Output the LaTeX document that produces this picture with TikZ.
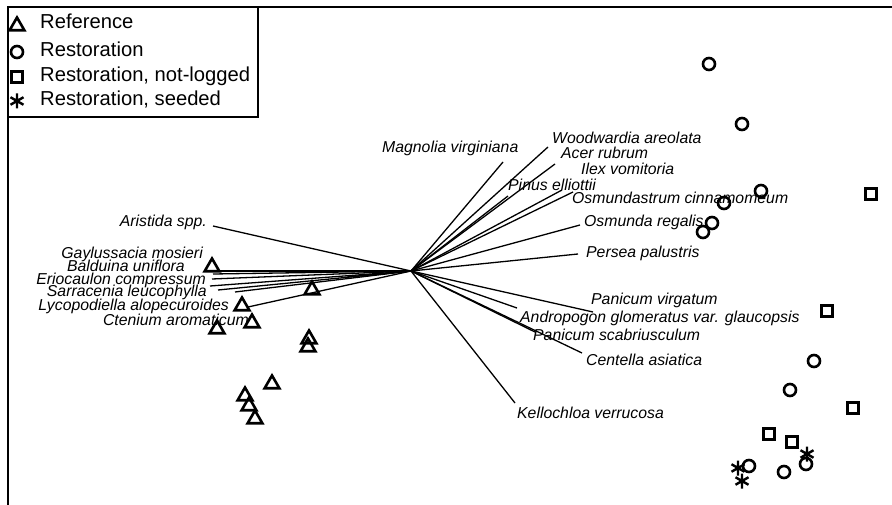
\documentclass[tikz,border=0pt]{standalone}
\usepackage{fontspec}
\setmainfont{Liberation Sans}
\usetikzlibrary{shapes.geometric}
\begin{document}
\begin{tikzpicture}[x=1pt,y=-1pt,
    lbl/.style={font=\fontsize{15.8}{18}\selectfont\itshape, inner sep=0pt, text height=11pt, text depth=3pt},
    leg/.style={font=\fontsize{20.2}{22}\selectfont, anchor=west, inner sep=0pt, text height=14pt, text depth=4pt},
    refpt/.style={draw, line width=2.6pt, regular polygon, regular polygon sides=3, minimum size=17pt, inner sep=0pt},
    restpt/.style={draw, line width=2.6pt, circle, minimum size=12pt, inner sep=0pt},
    nlpt/.style={draw, line width=2.6pt, rectangle, minimum size=11pt, inner sep=0pt},
    seeded/.pic={\draw[line width=2.4pt] (0,-7.5) -- (0,7.5) (-6.5,-3.75) -- (6.5,3.75) (-6.5,3.75) -- (6.5,-3.75);},
    vec/.style={line width=1.3pt}]
  \useasboundingbox (0,0) rectangle (892,505);
  \draw[line width=2pt] (8,505) -- (8,7) -- (892,7);
  \draw[line width=1.3pt] (8,117) -- (258,117) -- (258,7);

  \node[refpt] (kref) at (17,26) {};
  \node[restpt] (krest) at (17,52) {};
  \node[nlpt] (knl) at (17,77) {};
  \pic at (17,101) {seeded};
  \node[leg] (lref) at (40,24) {Reference};
  \node[leg] (lrest) at (40,52) {Restoration};
  \node[leg] (lnl) at (40,77) {Restoration, not-logged};
  \node[leg] (lseed) at (40,101) {Restoration, seeded};

  \coordinate (o) at (411,271);
  \coordinate (aristida) at (213,226);
  \coordinate (gaylussacia) at (213,271);
  \coordinate (balduina) at (213,274);
  \coordinate (eriocaulon) at (212,279);
  \coordinate (sarracenia) at (210,286);
  \coordinate (x1) at (218,290);
  \coordinate (ctenium) at (235,292);
  \coordinate (lycopodiella) at (248,307);
  \coordinate (x2) at (347,277);
  \coordinate (magnolia) at (503,162);
  \coordinate (woodwardia) at (548,147);
  \coordinate (acer) at (555,164);
  \coordinate (pinus) at (508,196);
  \coordinate (ilex) at (562,190);
  \coordinate (osmundastrum) at (573,192);
  \coordinate (osmunda) at (580,225);
  \coordinate (persea) at (578,254);
  \coordinate (virgatum) at (593,312);
  \coordinate (andropogon) at (517,308);
  \coordinate (scabriusculum) at (535,332);
  \coordinate (centella) at (582,353);
  \coordinate (kellochloa) at (515,403);
  \foreach \v in {aristida,gaylussacia,balduina,eriocaulon,sarracenia,x1,ctenium,lycopodiella,x2,
      magnolia,woodwardia,acer,pinus,ilex,osmundastrum,osmunda,persea,
      virgatum,andropogon,scabriusculum,centella,kellochloa}
    \draw[vec] (o) -- (\v);

  \node[lbl, anchor=east] (naristida) at (207,223) {Aristida spp.};
  \node[lbl, anchor=east] (ngaylussacia) at (203,255) {Gaylussacia mosieri};
  \node[lbl, anchor=east] (nbalduina) at (185,268) {Balduina uniflora};
  \node[lbl, anchor=east] (neriocaulon) at (206,280) {Eriocaulon compressum};
  \node[lbl, anchor=east] (nsarracenia) at (207,293) {Sarracenia leucophylla};
  \node[lbl, anchor=east] (nlycopodiella) at (229,306) {Lycopodiella alopecuroides};
  \node[lbl, anchor=east] (nctenium) at (249,321) {Ctenium aromaticum};
  \node[lbl, anchor=west] (nmagnolia) at (382,149) {Magnolia virginiana};
  \node[lbl, anchor=west] (nwoodwardia) at (552,140) {Woodwardia areolata};
  \node[lbl, anchor=west] (nacer) at (561,155) {Acer rubrum};
  \node[lbl, anchor=west] (nilex) at (581,171) {Ilex vomitoria};
  \node[lbl, anchor=west] (npinus) at (508,187) {Pinus elliottii};
  \node[lbl, anchor=west] (nosmundastrum) at (572,200) {Osmundastrum cinnamomeum};
  \node[lbl, anchor=west] (nosmunda) at (584,223) {Osmunda regalis};
  \node[lbl, anchor=west] (npersea) at (586,254) {Persea palustris};
  \node[lbl, anchor=west] (nvirgatum) at (591,301) {Panicum virgatum};
  \node[lbl, anchor=west] (nandropogon) at (520,318) {Andropogon glomeratus var. glaucopsis};
  \node[lbl, anchor=west] (nscabriusculum) at (533,336) {Panicum scabriusculum};
  \node[lbl, anchor=west] (ncentella) at (586,361) {Centella asiatica};
  \node[lbl, anchor=west] (nkellochloa) at (517,414) {Kellochloa verrucosa};

  \node[refpt] (r1) at (212,267) {};
  \node[refpt] (r2) at (312,290) {};
  \node[refpt] (r3) at (242,306) {};
  \node[refpt] (r4) at (252,323) {};
  \node[refpt] (r5) at (217,329) {};
  \node[refpt] (r6) at (309,339) {};
  \node[refpt] (r7) at (308,347) {};
  \node[refpt] (r8) at (272,384) {};
  \node[refpt] (r9) at (245,396) {};
  \node[refpt] (r10) at (249,406) {};
  \node[refpt] (r11) at (255,419) {};

  \node[restpt] (s1) at (709,64) {};
  \node[restpt] (s2) at (742,124) {};
  \node[restpt] (s3) at (761,191) {};
  \node[restpt] (s4) at (724,203) {};
  \node[restpt] (s5) at (712,223) {};
  \node[restpt] (s6) at (703,232) {};
  \node[restpt] (s7) at (814,361) {};
  \node[restpt] (s8) at (790,390) {};
  \node[restpt] (s9) at (749,466) {};
  \node[restpt] (s10) at (784,472) {};
  \node[restpt] (s11) at (806,464) {};

  \node[nlpt] (q1) at (871,194) {};
  \node[nlpt] (q2) at (827,311) {};
  \node[nlpt] (q3) at (853,408) {};
  \node[nlpt] (q4) at (769,434) {};
  \node[nlpt] (q5) at (792,442) {};

  \pic at (807,454) {seeded};
  \pic at (738,468) {seeded};
  \pic at (742,481) {seeded};
\end{tikzpicture}
\end{document}
